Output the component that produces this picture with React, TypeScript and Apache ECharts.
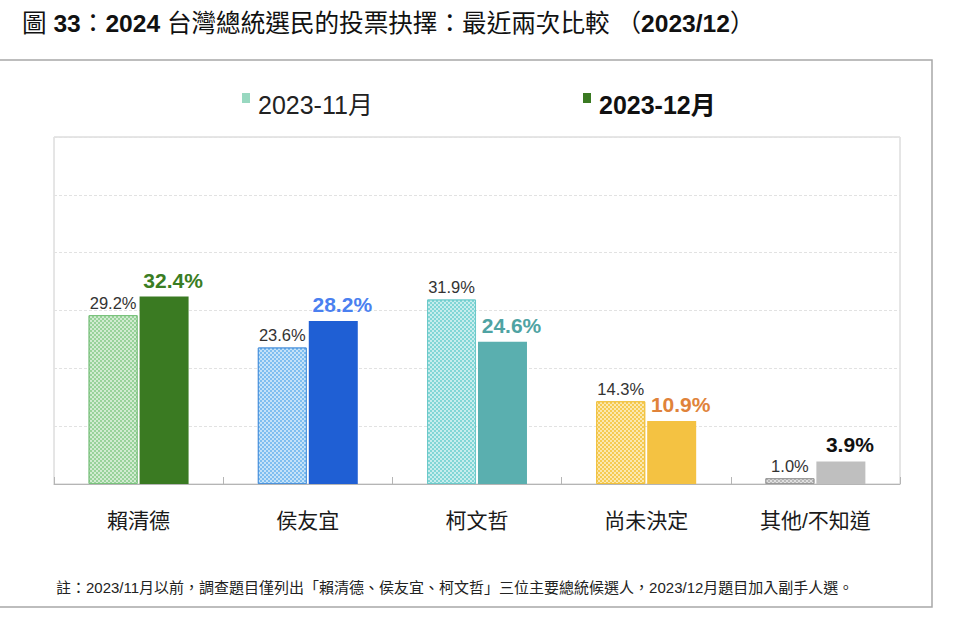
import React, { useEffect, useRef } from "react";
import * as echarts from "echarts";

const categories = ["賴清德", "侯友宜", "柯文哲", "尚未決定", "其他/不知道"];
const seriesNames = ["2023-11月", "2023-12月"];
const novValues = [29.2, 23.6, 31.9, 14.3, 1.0];
const decValues = [32.4, 28.2, 24.6, 10.9, 3.9];
const yTicks = [0, 10, 20, 30, 40, 50, 60];

const novColors = ["#98d29a", "#7fbef0", "#82d6d6", "#f6cb52", "#b9b9b9"];
const novBorders = ["#79c27c", "#4d93dc", "#6ccaca", "#f0c03c", "#999999"];
const decColors = ["#3a7a22", "#1f5fd4", "#5aafaf", "#f4c242", "#bfbfbf"];
const decLabelColors = ["#3a7d23", "#4a80f0", "#4fa3a3", "#e0833a", "#111111"];

const FONT = '"Liberation Sans", "Noto Sans CJK TC", sans-serif';
const titleText = "{n|圖 }{b|33}{n|：}{b|2024}{n| 台灣總統選民的投票抉擇：最近兩次比較 }{n|（}{b|2023/12}{n|）}";
const noteText = "註：2023/11月以前，調查題目僅列出「賴清德、侯友宜、柯文哲」三位主要總統候選人，2023/12月題目加入副手人選。";

export default function App() {
  const ref = useRef<HTMLDivElement>(null);
  useEffect(() => {
    if (!ref.current) return;
    const chart = echarts.init(ref.current, undefined, { renderer: "svg" });
    const decal = {
      symbol: "rect",
      symbolSize: 1,
      color: "rgba(255,255,255,0.55)",
      dashArrayX: [[2, 2], [0, 2, 2, 0]],
      dashArrayY: [2, 0],
      rotation: 0,
    };
    const legendIcon = "path://M0,0H8V10H0Z M0,22.97H0.03V23H0Z";
    const option: any = {
      animation: false,
      backgroundColor: "#ffffff",
      textStyle: { fontFamily: FONT },
      title: {
        left: 22,
        top: 11,
        padding: 0,
        text: titleText,
        textStyle: {
          fontFamily: FONT,
          rich: {
            n: { fontSize: 24.6, fontFamily: FONT, color: "#111", fontWeight: "normal" },
            b: { fontSize: 24.6, fontFamily: FONT, color: "#111", fontWeight: "bold" },
          },
        },
      },
      legend: [
        {
          left: 242,
          top: 92,
          padding: 0,
          itemWidth: 8,
          itemHeight: 23,
          icon: legendIcon,
          data: [
            {
              name: seriesNames[0],
              itemStyle: { color: "#98d8c0", borderWidth: 0 },
            },
          ],
          textStyle: { fontSize: 25, color: "#222", fontFamily: FONT, padding: [0, 0, 0, 3] },
        },
        {
          left: 583,
          top: 92,
          padding: 0,
          itemWidth: 8,
          itemHeight: 23,
          icon: legendIcon,
          data: [{ name: seriesNames[1], itemStyle: { color: "#3a7a22", borderWidth: 0 } }],
          textStyle: { fontSize: 25, color: "#111", fontWeight: "bold", fontFamily: FONT, padding: [0, 0, 0, 3] },
        },
      ],
      grid: {
        left: 54,
        right: 60,
        top: 137,
        bottom: 147,
        show: true,
        borderColor: "#cccccc",
        borderWidth: 1,
      },
      xAxis: {
        type: "category",
        data: categories,
        axisLine: { lineStyle: { color: "#b5b5b5", width: 1 } },
        axisTick: { show: true, inside: true, length: 7, lineStyle: { color: "#b5b5b5" } },
        axisLabel: { fontSize: 21, color: "#1a1a1a", margin: 26, fontFamily: FONT },
      },
      yAxis: {
        type: "value",
        min: yTicks[0],
        max: yTicks[yTicks.length - 1],
        interval: 10,
        axisLabel: { show: false },
        axisLine: { show: false },
        axisTick: { show: false },
        splitLine: { lineStyle: { color: "#e2e2e2", type: [3, 2], width: 1 } },
      },
      series: [
        {
          name: seriesNames[0],
          type: "bar",
          barWidth: 49,
          barGap: "4%",
          data: novValues.map((v, i) => ({
            value: v,
            itemStyle: {
              color: novColors[i],
              borderColor: novBorders[i],
              borderWidth: 1,
              decal,
            },
          })),
          label: {
            show: true,
            position: "top",
            distance: 4,
            fontSize: 16.5,
            color: "#333",
            fontFamily: FONT,
            formatter: (p: any) => p.value.toFixed(1) + "%",
          },
        },
        {
          name: seriesNames[1],
          type: "bar",
          barWidth: 49,
          data: decValues.map((v, i) => ({
            value: v,
            itemStyle: { color: decColors[i] },
            label: { color: decLabelColors[i] },
          })),
          label: {
            show: true,
            position: "top",
            distance: 6,
            offset: [9, 0],
            fontSize: 21,
            fontWeight: "bold",
            fontFamily: FONT,
            formatter: (p: any) => p.value.toFixed(1) + "%",
          },
        },
      ],
      graphic: [
        {
          type: "polyline",
          silent: true,
          shape: { points: [[-2, 60], [932, 60], [932, 607], [-2, 607]] },
          style: { stroke: "#a8a8a8", lineWidth: 1.5, fill: "none" },
        },
        {
          type: "text",
          left: 56,
          top: 580,
          style: { text: noteText, fontSize: 15, fill: "#222", fontFamily: FONT },
        },
      ],
    };
    chart.setOption(option);
    return () => chart.dispose();
  }, []);
  return (
    <div
      ref={ref}
      style={{ position: "absolute", left: 0, top: 0, width: 960, height: 631 }}
    />
  );
}
